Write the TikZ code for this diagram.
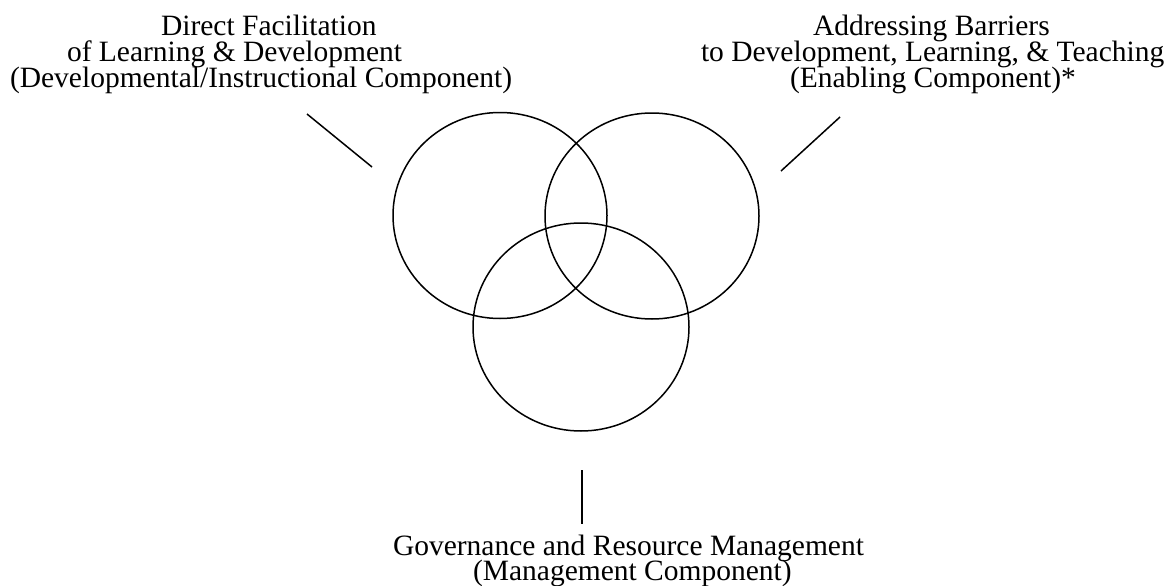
\documentclass[tikz,border=0pt]{standalone}
\usepackage{fontspec}
\setmainfont{Liberation Serif}
\usetikzlibrary{shapes.geometric}
\tikzset{
  lbl/.style={anchor=base west, inner sep=0pt, outer sep=0pt, font=\fontsize{29.5pt}{25.5pt}\selectfont},
  ring/.style={ellipse, draw, line width=1.5pt, inner sep=0pt, outer sep=0pt},
  tick/.style={line width=1.5pt}
}
\begin{document}
\begin{tikzpicture}[x=1pt,y=-1pt]
\useasboundingbox (0,0) rectangle (1172,586);
% circles
\node[ring, minimum width=214pt, minimum height=206pt] (dev) at (500,215.5) {};
\node[ring, minimum width=214pt, minimum height=206pt] (enb) at (652,216) {};
\node[ring, minimum width=216pt, minimum height=208pt] (mgt) at (581,327) {};
% left label
\node[lbl] (devA) at (161,36) {Direct Facilitation};
\node[lbl] (devB) at (67,61.5) {of Learning \& Development};
\node[lbl] (devC) at (10,87) {(Developmental/Instructional Component)};
% right label
\node[lbl] (enbA) at (813,36) {Addressing Barriers};
\node[lbl] (enbB) at (701,61.5) {to Development, Learning, \& Teaching};
\node[lbl] (enbC) at (790,87) {(Enabling Component)*};
% bottom label
\node[lbl] (mgtA) at (393,555) {Governance and Resource Management};
\node[lbl] (mgtB) at (473,580) {(Management Component)};
% connector lines
\coordinate (l1) at (307,114);
\coordinate (l2) at (372,167);
\coordinate (r1) at (840,117);
\coordinate (r2) at (781,171);
\coordinate (b1) at (582,470);
\coordinate (b2) at (582,524);
\draw[tick] (l1) -- (l2);
\draw[tick] (r1) -- (r2);
\draw[tick] (b1) -- (b2);
\end{tikzpicture}
\end{document}
